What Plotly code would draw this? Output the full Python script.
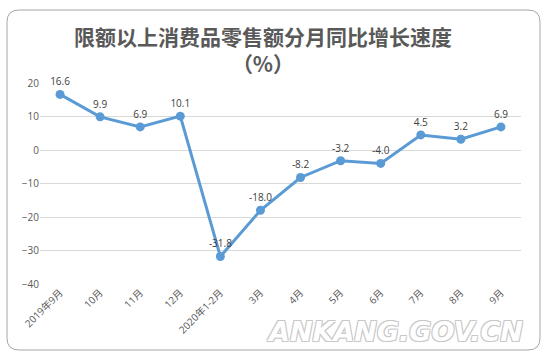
import plotly.graph_objects as go

categories = ["2019年9月", "10月", "11月", "12月", "2020年1-2月", "3月", "4月", "5月", "6月", "7月", "8月", "9月"]
values = [16.6, 9.9, 6.9, 10.1, -31.8, -18.0, -8.2, -3.2, -4.0, 4.5, 3.2, 6.9]
labels = ["16.6", "9.9", "6.9", "10.1", "-31.8", "-18.0", "-8.2", "-3.2", "-4.0", "4.5", "3.2", "6.9"]
y_ticks = [20, 10, 0, -10, -20, -30, -40]

W, H = 547, 362
L, R, T, B = 40, 26, 83, 78
pw, ph = W - L - R, H - T - B

def px(x):
    return (x - L) / pw

def py(y):
    return (H - B - y) / ph

fig = go.Figure()
fig.add_trace(go.Scatter(
    x=categories, y=values, mode="lines+markers+text",
    text=labels, textposition="top center",
    textfont=dict(size=10, color="#404040", family="Open Sans, sans-serif"),
    line=dict(color="#5B9BD5", width=3),
    marker=dict(size=9, color="#5B9BD5"),
    cliponaxis=False, hoverinfo="skip",
))

# rounded border path
x0, x1, y0, y1, r = 7, 540, 10, 350, 12
path = (f"M {px(x0+r)},{py(y0)} L {px(x1-r)},{py(y0)} Q {px(x1)},{py(y0)} {px(x1)},{py(y0+r)} "
        f"L {px(x1)},{py(y1-r)} Q {px(x1)},{py(y1)} {px(x1-r)},{py(y1)} "
        f"L {px(x0+r)},{py(y1)} Q {px(x0)},{py(y1)} {px(x0)},{py(y1-r)} "
        f"L {px(x0)},{py(y0+r)} Q {px(x0)},{py(y0)} {px(x0+r)},{py(y0)} Z")
fig.add_shape(type="path", path=path, xref="paper", yref="paper",
              line=dict(color="#A6A6A6", width=1), layer="below")

fig.add_annotation(text="<b>限额以上消费品零售额分月同比增长速度<br>（%）</b>",
                   xref="paper", yref="paper", x=px(263), y=py(49),
                   showarrow=False, xanchor="center", yanchor="middle", align="center",
                   font=dict(size=21, color="#595959", family="Noto Sans CJK SC"))

fig.add_annotation(text="<i><b>ANKANG.GOV.CN</b></i>", xref="paper", yref="paper",
                   x=px(395), y=py(331), showarrow=False, xanchor="center", yanchor="middle",
                   font=dict(size=27, color="white", family="DejaVu Sans",
                             shadow="-1px -1px 0 #c8c8c8, 1px -1px 0 #c8c8c8, -1px 1px 0 #c8c8c8, 1px 1px 0 #c8c8c8"))

fig.update_layout(
    width=W, height=H,
    margin=dict(l=L, r=R, t=T, b=B, autoexpand=False),
    paper_bgcolor="white", plot_bgcolor="white",
    showlegend=False,
    font=dict(family="Open Sans, Noto Sans CJK SC, sans-serif", color="#595959", size=10),
)
fig.update_xaxes(type="category", range=[-0.5, len(categories) - 0.5], tickangle=-45,
                 showgrid=False, showline=False,
                 tickfont=dict(size=10, color="#595959", family="Open Sans, Noto Sans CJK SC"),
                 ticks="", fixedrange=True, automargin=False)
fig.update_yaxes(range=[-40, 20], tickvals=y_ticks, showgrid=True, gridcolor="#D9D9D9",
                 zeroline=False, showline=False, ticks="", automargin=False,
                 tickfont=dict(size=10, color="#595959"), fixedrange=True)

fig.write_html("out.html", config={"responsive": False, "displayModeBar": False},
               post_script="document.body.style.margin='0';document.body.style.overflow='hidden';")
